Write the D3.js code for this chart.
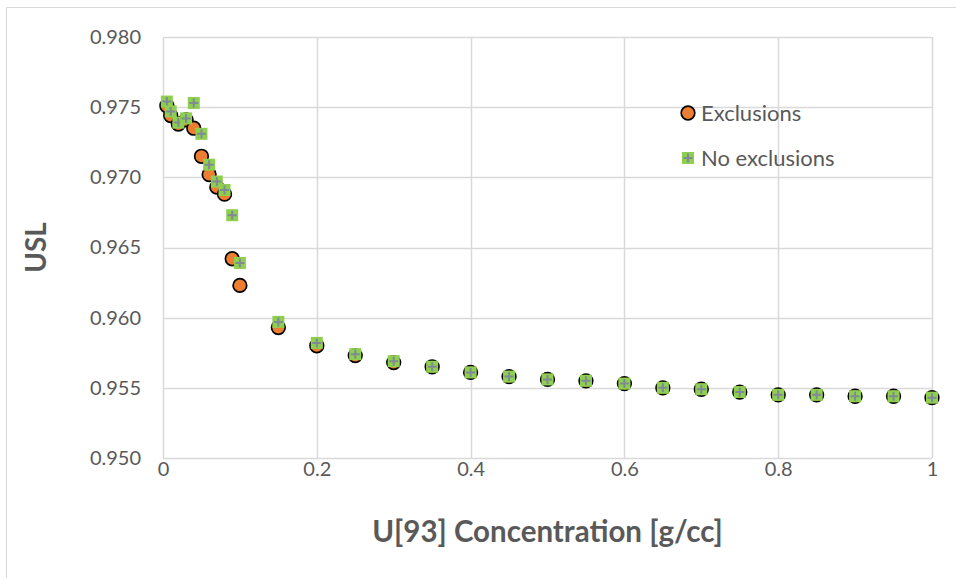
<!DOCTYPE html>
<html><head><meta charset="utf-8">
<script src="https://cdn.jsdelivr.net/npm/d3@7"></script>
<style>body{margin:0;background:#fff}svg{display:block}text{font-family:Lato,"Open Sans",sans-serif}</style>
</head><body><svg id="c" width="956" height="578"></svg>
<script>
const xValues = [0.005,0.01,0.02,0.03,0.04,0.05,0.06,0.07,0.08,0.09,0.1,0.15,0.2,0.25,0.3,0.35,0.4,0.45,0.5,0.55,0.6,0.65,0.7,0.75,0.8,0.85,0.9,0.95,1.0];
const exclusions = [0.9751,0.9744,0.9738,0.9741,0.9735,0.9715,0.9702,0.9693,0.9688,0.9642,0.9623,0.9593,0.9580,0.9573,0.9568,0.9565,0.9561,0.9558,0.9556,0.9555,0.9553,0.9550,0.9549,0.9547,0.9545,0.9545,0.9544,0.9544,0.9543];
const noExclusions = [0.9754,0.9747,0.9739,0.9742,0.9753,0.9731,0.9709,0.9697,0.9691,0.9673,0.9639,0.9597,0.9582,0.9574,0.9569,0.9565,0.9561,0.9558,0.9556,0.9555,0.9553,0.9550,0.9549,0.9547,0.9545,0.9545,0.9544,0.9544,0.9543];
const xTicks = [0,0.2,0.4,0.6,0.8,1];
const yTicks = [0.950,0.955,0.960,0.965,0.970,0.975,0.980];
const seriesNames = ["Exclusions","No exclusions"];

const svg = d3.select("#c");
const m = {l:163,t:37,r:24,b:120};
const W = 956, H = 578;
const x = d3.scaleLinear().domain([0,1]).range([m.l, W-m.r]);
const y = d3.scaleLinear().domain([0.950,0.980]).range([H-m.b, m.t]);
const grid = "#d9d9d9", txt = "#595959";

svg.append("path").attr("d",`M6.5,578V7.5H956`).attr("fill","none").attr("stroke",grid).attr("stroke-width",1);

const g = svg.append("g");
g.selectAll(".hy").data(yTicks).join("line")
  .attr("x1",m.l).attr("x2",W-m.r).attr("y1",d=>Math.round(y(d))+0.5).attr("y2",d=>Math.round(y(d))+0.5)
  .attr("stroke",grid).attr("stroke-width",1.5);
g.selectAll(".vx").data(xTicks).join("line")
  .attr("y1",m.t).attr("y2",H-m.b).attr("x1",d=>Math.round(x(d))+0.5).attr("x2",d=>Math.round(x(d))+0.5)
  .attr("stroke",grid).attr("stroke-width",1.5);

const xa = svg.append("g").attr("transform",`translate(0,${H-m.b})`)
  .call(d3.axisBottom(x).tickValues(xTicks).tickFormat(d=>d3.format("")(d)).tickSize(0).tickPadding(4));
xa.select(".domain").remove();
xa.selectAll("text").attr("fill",txt).attr("font-size",20).attr("font-family","Lato,sans-serif");
const ya = svg.append("g").attr("transform",`translate(${m.l},0)`)
  .call(d3.axisLeft(y).tickValues(yTicks).tickFormat(d3.format(".3f")).tickSize(0).tickPadding(22));
ya.select(".domain").remove();
ya.selectAll("text").attr("fill",txt).attr("font-size",20).attr("font-family","Lato,sans-serif");

svg.append("text").attr("x",(m.l+W-m.r)/2).attr("y",542).attr("text-anchor","middle")
  .attr("font-size",29.5).attr("font-weight","bold").attr("fill",txt).text("U[93] Concentration [g/cc]");
svg.append("text").attr("transform",`translate(46,${(m.t+H-m.b)/2}) rotate(-90)`).attr("text-anchor","middle")
  .attr("font-size",28).attr("font-weight","bold").attr("fill",txt).text("USL");

const orange = "#ED7D31", green = "#8FCF4F", cross = "#7f8a96";
function circle(sel){ sel.attr("r",6.8).attr("fill",orange).attr("stroke","#000").attr("stroke-width",1.7); }
function plus(sel){
  sel.append("rect").attr("x",-6).attr("y",-6).attr("width",12).attr("height",12).attr("fill",green);
  sel.append("path").attr("d","M-4.5,0H4.5M0,-4.5V4.5").attr("stroke",cross).attr("stroke-width",2).attr("fill","none");
}
const pts = xValues.map((d,i)=>({x:d,a:exclusions[i],b:noExclusions[i]}));
svg.append("g").selectAll("circle").data(pts).join("circle")
  .attr("cx",d=>x(d.x)).attr("cy",d=>y(d.a)).call(circle);
svg.append("g").selectAll("g").data(pts).join("g")
  .attr("transform",d=>`translate(${x(d.x)},${y(d.b)})`).call(plus);

// legend
const lg = svg.append("g");
lg.append("circle").attr("cx",688).attr("cy",113).call(circle);
lg.append("g").attr("transform","translate(688,158)").call(plus);
lg.selectAll("text").data(seriesNames).join("text")
  .attr("x",701).attr("y",(d,i)=>113+i*45).attr("dy","0.35em")
  .attr("font-size",22).attr("fill",txt).text(d=>d);
</script></body></html>
